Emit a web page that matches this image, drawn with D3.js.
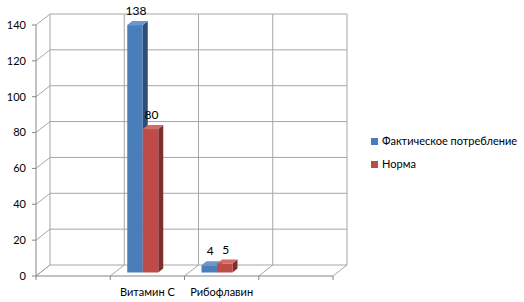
<!DOCTYPE html>
<html lang="ru">
<head>
<meta charset="utf-8">
<title>Витамины</title>
<script src="https://cdn.jsdelivr.net/npm/d3@7/dist/d3.min.js"></script>
<style>
  body { margin: 0; background: #fff; }
  svg text { font-family: Lato, "Open Sans", sans-serif; fill: #000; font-size: 11px; }
</style>
</head>
<body>
<svg width="524" height="302"></svg>
<script>
// data
var categories = ["", "Витамин С", "Рибофлавин", ""];
var seriesNames = ["Фактическое потребление", "Норма"];
var actual = [null, 138, 4, null];
var norm = [null, 80, 5, null];
var yTicks = [0, 20, 40, 60, 80, 100, 120, 140];

var front = ["#4a7ebb", "#be4b48"];
var side = ["#2c4d75", "#7f2f2d"];
var top_ = ["#6b97cf", "#d06d6a"];

var svg = d3.select("svg");

// 3d box: front plane and back wall offset
var depth = {x: 14, y: -11};
var barShift = {x: 4.5, y: -3.5};
var barDepth = {x: 5, y: -4};

var x = d3.scaleBand().domain(d3.range(categories.length)).range([36, 333]);
var y = d3.scaleLinear().domain([0, 140]).range([276, 25]);

var grid = "#a6a6a6", axisCol = "#868686";
var bounds = d3.range(categories.length + 1).map(i => 36 + i * x.bandwidth());

// back wall horizontal gridlines
svg.selectAll("line.hgrid").data(yTicks).enter().append("line")
  .attr("x1", 36 + depth.x).attr("x2", 333 + depth.x)
  .attr("y1", d => y(d) + depth.y).attr("y2", d => y(d) + depth.y)
  .attr("stroke", grid);
// side wall diagonals
svg.selectAll("line.sgrid").data(yTicks).enter().append("line")
  .attr("x1", 36).attr("x2", 36 + depth.x)
  .attr("y1", d => y(d)).attr("y2", d => y(d) + depth.y)
  .attr("stroke", grid);
// back wall verticals
svg.selectAll("line.vgrid").data(bounds).enter().append("line")
  .attr("x1", d => d + depth.x).attr("x2", d => d + depth.x)
  .attr("y1", y(140) + depth.y).attr("y2", y(0) + depth.y)
  .attr("stroke", grid);
// floor diagonals
svg.selectAll("line.fgrid").data(bounds).enter().append("line")
  .attr("x1", d => d).attr("x2", d => d + depth.x)
  .attr("y1", y(0)).attr("y2", y(0) + depth.y)
  .attr("stroke", grid);

// axes
svg.append("line").attr("x1", 36).attr("x2", 333).attr("y1", y(0)).attr("y2", y(0)).attr("stroke", axisCol);
svg.append("line").attr("x1", 36).attr("x2", 36).attr("y1", y(0)).attr("y2", y(140)).attr("stroke", axisCol);
svg.selectAll("line.ytick").data(yTicks).enter().append("line")
  .attr("x1", 32).attr("x2", 36).attr("y1", d => y(d)).attr("y2", d => y(d)).attr("stroke", axisCol);
svg.selectAll("line.xtick").data(bounds).enter().append("line")
  .attr("x1", d => d).attr("x2", d => d).attr("y1", y(0)).attr("y2", y(0) + 4).attr("stroke", axisCol);

svg.selectAll("text.ylab").data(yTicks).enter().append("text")
  .attr("x", 26).attr("y", d => y(d)).attr("dy", "0.35em")
  .attr("text-anchor", "end").text(d => d);

svg.selectAll("text.xlab").data(categories).enter().append("text")
  .attr("x", (d, i) => x(i) + x.bandwidth() / 2).attr("y", 296)
  .attr("text-anchor", "middle").text(d => d);

// bars
var bw = 15.5;
[actual, norm].forEach(function(vals, s) {
  var pts = vals.map((v, i) => ({v: v, i: i})).filter(d => d.v !== null);
  var g = svg.append("g");
  pts.forEach(function(d) {
    var x0 = x(d.i) + 12.5 + barShift.x + s * bw, x1 = x0 + bw;
    var yb = y(0) + barShift.y, yt = y(d.v) + barShift.y;
    var dx = barDepth.x, dy = barDepth.y;
    g.append("path").attr("fill", side[s])
      .attr("d", `M${x1},${yb}L${x1 + dx},${yb + dy}L${x1 + dx},${yt + dy}L${x1},${yt}Z`);
    g.append("path").attr("fill", top_[s])
      .attr("d", `M${x0},${yt}L${x0 + dx},${yt + dy}L${x1 + dx},${yt + dy}L${x1},${yt}Z`);
    g.append("rect").attr("fill", front[s])
      .attr("x", x0).attr("y", yt).attr("width", bw).attr("height", yb - yt);
    svg.append("text").attr("x", x0 + bw / 2 + 1).attr("y", yt - 10)
      .attr("text-anchor", "middle").style("font-size", "12px").text(d.v);
  });
});

// legend
var leg = svg.selectAll("g.leg").data(seriesNames).enter().append("g")
  .attr("transform", (d, i) => `translate(371,${138 + i * 23})`);
leg.append("rect").attr("width", 7).attr("height", 7).attr("fill", (d, i) => front[i]);
leg.append("text").attr("x", 11).attr("y", 7).text(d => d);
</script>
</body>
</html>
